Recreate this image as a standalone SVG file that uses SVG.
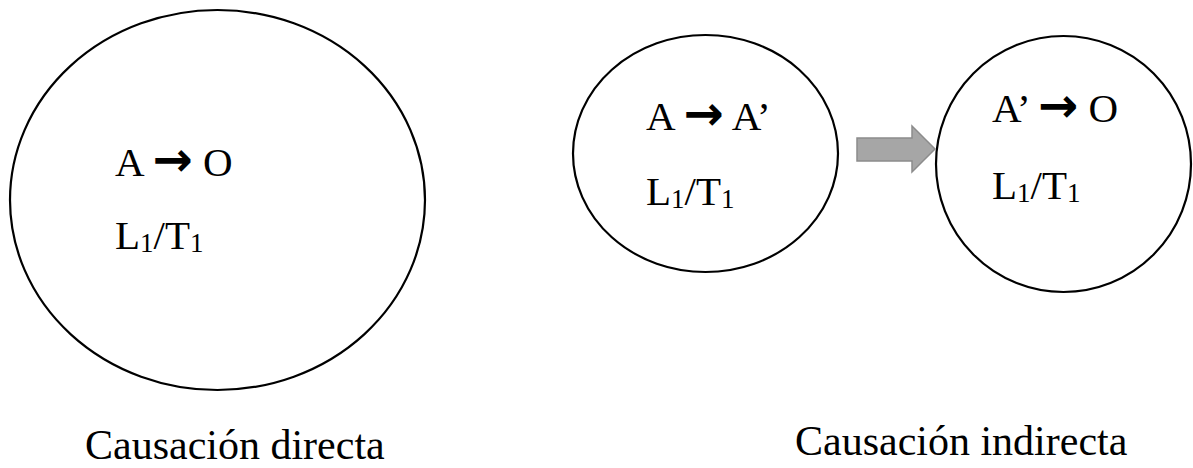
<svg xmlns="http://www.w3.org/2000/svg" width="1193" height="468" viewBox="0 0 1193 468">
  <style>
    .node { fill: #ffffff; stroke: #000000; stroke-width: 2.2; }
    .t { font-family: "Liberation Serif", "Times New Roman", serif; font-size: 41px; fill: #000000; }
    .lbl { font-family: "Liberation Serif", "Times New Roman", serif; font-size: 42px; fill: #000000; }
    .sub { font-size: 27px; }
    .arr { font-family: "DejaVu Sans", sans-serif; font-weight: bold; font-size: 48px; }
    .conn { fill: #a6a6a6; stroke: #8c8c8c; stroke-width: 1.5; }
  </style>
  <rect width="1193" height="468" fill="#ffffff"/>
  <g id="node-directa">
    <ellipse class="node" cx="217.5" cy="200" rx="207.5" ry="190"/>
    <text class="t" x="115" y="176">A <tspan class="arr">→</tspan> O</text>
    <text class="t" x="115" y="249">L<tspan class="sub" dy="3">1</tspan><tspan dy="-3">/T</tspan><tspan class="sub" dy="3">1</tspan></text>
  </g>
  <g id="node-indirecta-1">
    <ellipse class="node" cx="705.5" cy="153.5" rx="132.5" ry="118.5"/>
    <text class="t" x="646" y="130">A <tspan class="arr">→</tspan> A’</text>
    <text class="t" x="646" y="205">L<tspan class="sub" dy="3">1</tspan><tspan dy="-3">/T</tspan><tspan class="sub" dy="3">1</tspan></text>
  </g>
  <g id="node-indirecta-2">
    <ellipse class="node" cx="1063.5" cy="164" rx="127.5" ry="128"/>
    <text class="t" x="992" y="122">A’ <tspan class="arr">→</tspan> O</text>
    <text class="t" x="992" y="199">L<tspan class="sub" dy="3">1</tspan><tspan dy="-3">/T</tspan><tspan class="sub" dy="3">1</tspan></text>
  </g>
  <g id="connectors">
    <polygon class="conn" points="857,138 912,138 912,126 935,149 912,172 912,161 857,161"/>
  </g>
  <g id="labels">
    <text class="lbl" x="85" y="459">Causación directa</text>
    <text class="lbl" x="795" y="455">Causación indirecta</text>
  </g>
</svg>
